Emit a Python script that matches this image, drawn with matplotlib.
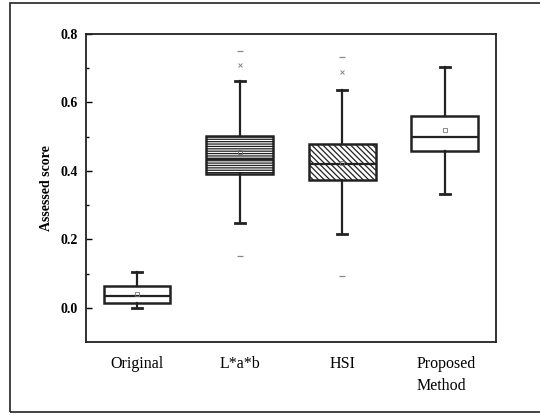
import matplotlib
matplotlib.use("Agg")
import matplotlib.pyplot as plt
from matplotlib.patches import Rectangle

# Box statistics
methods = ["Original", "L*a*b", "HSI", "Proposed\nMethod"]
whisker_low = [0.000, 0.248, 0.216, 0.332]
q1 = [0.013, 0.392, 0.374, 0.459]
medians = [0.034, 0.435, 0.420, 0.500]
q3 = [0.063, 0.501, 0.480, 0.559]
whisker_high = [0.104, 0.664, 0.636, 0.703]
means = [0.039, 0.456, 0.423, 0.519]
# 1% / 99% marks (x) and min / max marks (-)
pct_marks = [[], [0.709], [0.688], []]
minmax_marks = [[], [0.151, 0.751], [0.093, 0.733], []]
hatches = ["", "-------", "\\\\\\\\\\\\", ""]

plt.rcParams['font.family'] = ['Liberation Serif', 'DejaVu Serif']
plt.rcParams['hatch.color'] = '#3a3a3a'
plt.rcParams['hatch.linewidth'] = 0.9

fig = plt.figure(figsize=(5.4, 4.15), dpi=100)
ax = fig.add_axes([0.159, 0.176, 0.7595, 0.742])

stats = []
for i in range(len(methods)):
    stats.append({
        'whislo': whisker_low[i], 'q1': q1[i], 'med': medians[i],
        'q3': q3[i], 'whishi': whisker_high[i], 'mean': means[i],
        'fliers': [],
    })

positions = list(range(1, len(methods) + 1))
res = ax.bxp(stats, positions=positions, widths=0.65, patch_artist=True,
             showmeans=True, showfliers=False, capwidths=0.1,
             boxprops=dict(facecolor='white', edgecolor='#222222', linewidth=1.8),
             medianprops=dict(color='#222222', linewidth=1.6),
             whiskerprops=dict(color='#222222', linewidth=1.6),
             capprops=dict(color='#222222', linewidth=2.0),
             meanprops=dict(marker='s', markersize=3, markerfacecolor='none',
                            markeredgecolor='#777777', markeredgewidth=0.6))
for box, h in zip(res['boxes'], hatches):
    box.set_hatch(h)

for p, vals in zip(positions, pct_marks):
    if vals:
        ax.plot([p] * len(vals), vals, linestyle='none', marker='x',
                markersize=3, color='#888888', markeredgewidth=0.7)
for p, vals in zip(positions, minmax_marks):
    if vals:
        ax.plot([p] * len(vals), vals, linestyle='none', marker='_',
                markersize=4, color='#888888', markeredgewidth=0.9)

ax.set_xlim(0.5, 4.5)
ax.set_ylim(-0.1, 0.8)
ax.set_yticks([0.0, 0.2, 0.4, 0.6, 0.8])
ax.set_yticks([0.1, 0.3, 0.5, 0.7], minor=True)
ax.set_yticklabels(["0.0", "0.2", "0.4", "0.6", "0.8"], fontweight='bold', fontsize=10)
ax.set_xticks(positions)
ax.set_xticklabels(methods, fontsize=11.5, linespacing=1.5)
last = ax.get_xticklabels()[-1]
last.set_ha('left')
last.set_multialignment('left')
ax.tick_params(axis='x', length=0, pad=10)
ax.tick_params(axis='y', which='major', direction='in', length=4, width=1, pad=6)
ax.tick_params(axis='y', which='minor', direction='in', length=2.5, width=1)
ax.set_ylabel("Assessed score", fontweight='bold', fontsize=10, labelpad=5)
for s in ax.spines.values():
    s.set_linewidth(1.3)
    s.set_color('#222222')

# nudge the two-line label left so it starts near the box edge
from matplotlib.transforms import ScaledTranslation
last.set_transform(last.get_transform() + ScaledTranslation(-0.28, 0, fig.dpi_scale_trans))

# outer frame of the figure
frame = Rectangle((10 / 540, 3 / 415), 1.0, 409 / 415, transform=fig.transFigure,
                  fill=False, edgecolor='#222222', linewidth=1.2, clip_on=False)
fig.patches.append(frame)

fig.savefig("out.png", dpi=100)
